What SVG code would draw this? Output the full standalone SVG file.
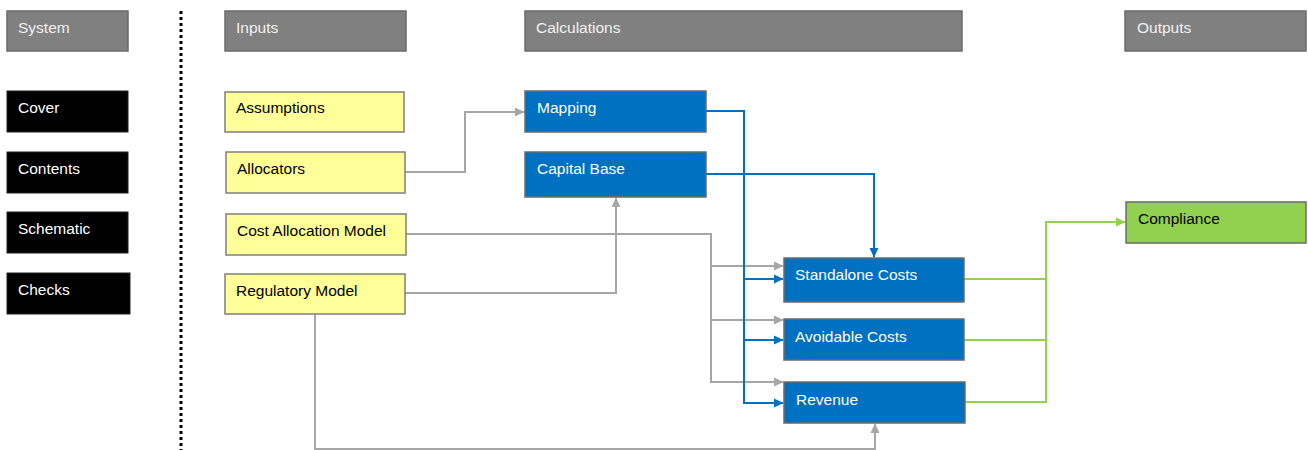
<svg xmlns="http://www.w3.org/2000/svg" width="1308" height="450" viewBox="0 0 1308 450">
<style>
text{font-family:"Liberation Sans",Arial,sans-serif;font-size:15.5px}
.hdr rect{fill:#808080;stroke:#6b6b6b;stroke-width:1.5}
.hdr text{fill:#f2f2f2}
.blk rect{fill:#000;stroke:#222;stroke-width:1}
.blk text{fill:#fff}
.yel rect{fill:#ffff99;stroke:#7f7f7f;stroke-width:1.5}
.yel text{fill:#000}
.blu rect{fill:#0070c0;stroke:#6b6b6b;stroke-width:1.5}
.blu text{fill:#fff}
.grn rect{fill:#92d050;stroke:#6b6b6b;stroke-width:1.5}
.grn text{fill:#000}
.cg{fill:none;stroke:#a6a6a6;stroke-width:2}
.cb{fill:none;stroke:#0070c0;stroke-width:2}
.cn{fill:none;stroke:#92d050;stroke-width:2}
</style>
<defs>
<marker id="ag" markerWidth="10" markerHeight="10" refX="9" refY="5" orient="auto" markerUnits="userSpaceOnUse"><path d="M0,0.5 L9.5,5 L0,9.5 Z" fill="#a6a6a6"/></marker>
<marker id="ab" markerWidth="10" markerHeight="10" refX="9" refY="5" orient="auto" markerUnits="userSpaceOnUse"><path d="M0,0.5 L9.5,5 L0,9.5 Z" fill="#0070c0"/></marker>
<marker id="an" markerWidth="10" markerHeight="10" refX="9" refY="5" orient="auto" markerUnits="userSpaceOnUse"><path d="M0,0.5 L9.5,5 L0,9.5 Z" fill="#92d050"/></marker>
</defs>
<rect width="1308" height="450" fill="#fff"/>
<line x1="181" y1="11" x2="181" y2="450" stroke="#000" stroke-width="3" stroke-dasharray="3 3"/>
<g id="connectors">
<path class="cg" d="M405,172 H465 V112 H524" marker-end="url(#ag)"/>
<path class="cg" d="M405,293 H616 V198" marker-end="url(#ag)"/>
<path class="cg" d="M406,234 H711 V382 H783" marker-end="url(#ag)"/>
<path class="cg" d="M711,266 H783" marker-end="url(#ag)"/>
<path class="cg" d="M711,320 H783" marker-end="url(#ag)"/>
<path class="cg" d="M315,314 V449 H875 V424" marker-end="url(#ag)"/>
<path class="cb" d="M706,111 H744 V403 H783" marker-end="url(#ab)"/>
<path class="cb" d="M744,279 H783" marker-end="url(#ab)"/>
<path class="cb" d="M744,340 H783" marker-end="url(#ab)"/>
<path class="cb" d="M706,174 H874 V257" marker-end="url(#ab)"/>
<path class="cn" d="M964,279 H1046"/>
<path class="cn" d="M964,340 H1046"/>
<path class="cn" d="M965,402 H1046 V222 H1125" marker-end="url(#an)"/>
</g>
<g id="h-system" class="hdr"><rect x="7" y="11" width="121" height="40"/><text x="18" y="33">System</text></g>
<g id="h-inputs" class="hdr"><rect x="225" y="11" width="181" height="40"/><text x="236" y="33">Inputs</text></g>
<g id="h-calc" class="hdr"><rect x="525" y="11" width="437" height="40"/><text x="536" y="33">Calculations</text></g>
<g id="h-outputs" class="hdr"><rect x="1125" y="11" width="181" height="40"/><text x="1137" y="33">Outputs</text></g>
<g id="cover" class="blk"><rect x="7" y="91" width="121" height="41"/><text x="18" y="113">Cover</text></g>
<g id="contents" class="blk"><rect x="7" y="152" width="121" height="41"/><text x="18" y="174">Contents</text></g>
<g id="schematic" class="blk"><rect x="7" y="212" width="121" height="41"/><text x="18" y="234">Schematic</text></g>
<g id="checks" class="blk"><rect x="7" y="273" width="123" height="41"/><text x="18" y="295">Checks</text></g>
<g id="assumptions" class="yel"><rect x="225" y="92" width="179" height="40"/><text x="236" y="113">Assumptions</text></g>
<g id="allocators" class="yel"><rect x="226" y="152" width="179" height="41"/><text x="237" y="174">Allocators</text></g>
<g id="cam" class="yel"><rect x="226" y="214" width="180" height="41"/><text x="237" y="236">Cost Allocation Model</text></g>
<g id="regmodel" class="yel"><rect x="225" y="274" width="180" height="40"/><text x="236" y="296">Regulatory Model</text></g>
<g id="mapping" class="blu"><rect x="525" y="91" width="181" height="41"/><text x="537" y="113">Mapping</text></g>
<g id="capbase" class="blu"><rect x="525" y="152" width="181" height="45"/><text x="537" y="174">Capital Base</text></g>
<g id="standalone" class="blu"><rect x="784" y="258" width="180" height="44"/><text x="795" y="280">Standalone Costs</text></g>
<g id="avoidable" class="blu"><rect x="784" y="319" width="180" height="41"/><text x="795" y="342">Avoidable Costs</text></g>
<g id="revenue" class="blu"><rect x="784" y="382" width="181" height="41"/><text x="796" y="405">Revenue</text></g>
<g id="compliance" class="grn"><rect x="1126" y="202" width="180" height="41"/><text x="1138" y="224">Compliance</text></g>
</svg>
